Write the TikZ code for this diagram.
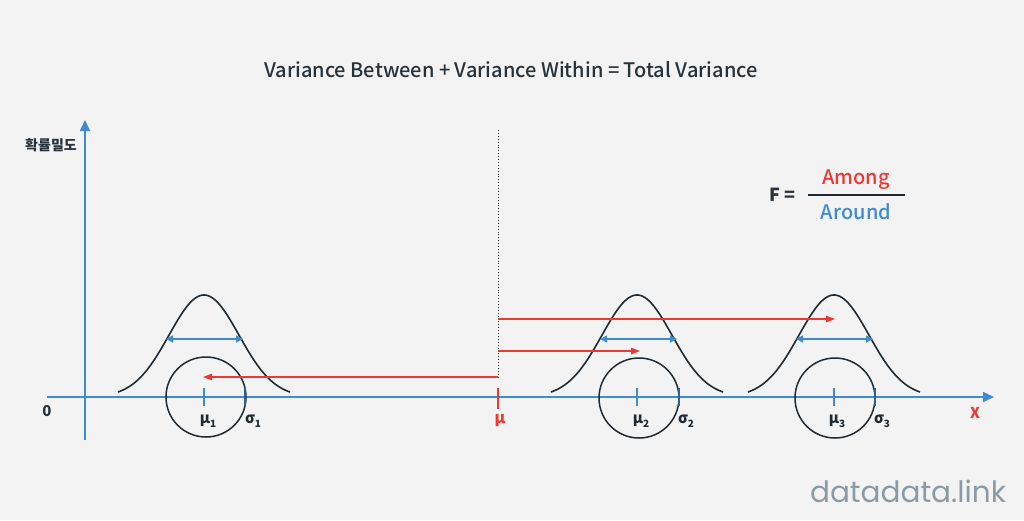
\documentclass[tikz,border=0pt]{standalone}
\usepackage{fontspec}
\setmainfont{Noto Sans CJK KR}
\newfontfamily\medfont{Noto Sans CJK KR Medium}
\newfontfamily\wmfont{Poppins}
\usetikzlibrary{arrows.meta}
\definecolor{bgc}{HTML}{F3F3F3}
\definecolor{axb}{HTML}{3F8BD0}
\definecolor{redc}{HTML}{EA3A33}
\definecolor{ink}{HTML}{1F2A33}
\definecolor{titlec}{HTML}{27323D}
\definecolor{wmc}{HTML}{8A9BA6}
\tikzset{
  axis/.style={draw=axb, line width=1.6pt, -{Triangle[length=11pt,width=10pt,fill=axb]}},
  bell/.style={draw=ink, line width=1.6pt},
  ring/.style={draw=ink, line width=1.5pt},
  spread/.style={draw=axb, line width=1.6pt, {Triangle[length=7pt,width=7pt,fill=axb]}-{Triangle[length=7pt,width=7pt,fill=axb]}},
  meanshift/.style={draw=redc, line width=1.1pt, -{Triangle[length=9pt,width=6.5pt,fill=redc]}},
  tickb/.style={draw=axb, line width=1.4pt},
  ticks/.style={draw=axb!70!black, line width=2pt},
  lab/.style={font=\bfseries\fontsize{15}{18}\selectfont, text=ink, inner sep=0pt},
}
\newcommand{\sbs}[1]{\raisebox{-0.45ex}{\fontsize{10}{11}\selectfont #1}}
\begin{document}
\begin{tikzpicture}[x=1pt,y=-1pt]
\fill[bgc] (0,0) rectangle (1024,520);
\useasboundingbox (0,0) rectangle (1024,520);
% title
\node[font=\medfont\fontsize{20}{24}\selectfont, text=titlec, inner sep=0pt] (title) at (511,70) {Variance Between + Variance Within = Total Variance};
% axes
\coordinate (yb) at (85,440);
\coordinate (yt) at (85,120);
\coordinate (xl) at (47,397);
\coordinate (xr) at (994,397);
\draw[axis] (yb) -- (yt);
\draw[axis] (xl) -- (xr);
\node[font=\bfseries\fontsize{14}{16}\selectfont, text=titlec, inner sep=0pt] (ylab) at (51,145) {확률밀도};
\node[font=\bfseries\fontsize{15}{17}\selectfont, text=titlec, inner sep=0pt] (zero) at (47,411) {0};
\node[font=\bfseries\fontsize{15}{18}\selectfont, text=redc, inner sep=0pt] (xlab) at (975,413) {X};
% dotted grand mean
\coordinate (mtop) at (498,130);
\coordinate (mbot) at (498,377);
\draw[draw=ink, line width=0.9pt, dotted] (mtop) -- (mbot);
\coordinate (mt1) at (498,388);
\coordinate (mt2) at (498,409);
\draw[draw=redc, line width=1.3pt] (mt1) -- (mt2);
\node[font=\bfseries\fontsize{16}{19}\selectfont, text=redc, inner sep=0pt] (mu) at (500,421) {μ};
% bells
\foreach \c in {204,637,834}{
  \draw[bell] plot[domain=-86:86, samples=100, smooth] ({\c+\x}, {397-102*exp(-(\x*\x)/(2*35*35))});
}
% circles
\node[ring, circle, minimum size=80pt, inner sep=0pt] (c1) at (206,397) {};
\node[ring, circle, minimum size=80pt, inner sep=0pt] (c2) at (639,398) {};
\node[ring, circle, minimum size=80pt, inner sep=0pt] (c3) at (835,398) {};
% spread arrows
\coordinate (s1a) at (166,339); \coordinate (s1b) at (243,339);
\coordinate (s2a) at (600,339); \coordinate (s2b) at (677,339);
\coordinate (s3a) at (796,339); \coordinate (s3b) at (873,339);
\draw[spread] (s1a) -- (s1b);
\draw[spread] (s2a) -- (s2b);
\draw[spread] (s3a) -- (s3b);
% mean ticks and sigma ticks
\foreach \m/\s in {204/245,637/679,834/875}{
  \draw[tickb] (\m,388) -- (\m,406);
  \draw[ticks] (\s,388) -- (\s,406);
}
% labels
\node[lab] (m1) at (208,421) {μ\sbs{1}};
\node[lab] (g1) at (253,421) {σ\sbs{1}};
\node[lab] (m2) at (641,421) {μ\sbs{2}};
\node[lab] (g2) at (686,421) {σ\sbs{2}};
\node[lab] (m3) at (837,421) {μ\sbs{3}};
\node[lab] (g3) at (882,421) {σ\sbs{3}};
% red shift arrows
\coordinate (r1s) at (498,377); \coordinate (r1e) at (203,377);
\coordinate (r2s) at (498,319); \coordinate (r2e) at (835,319);
\coordinate (r3s) at (498,351); \coordinate (r3e) at (640,351);
\draw[meanshift] (r1s) -- (r1e);
\draw[meanshift] (r2s) -- (r2e);
\draw[meanshift] (r3s) -- (r3e);
% F ratio
\node[font=\bfseries\fontsize{18}{21}\selectfont, text=titlec, inner sep=0pt] (F) at (782,195) {F =};
\coordinate (fa) at (808,195); \coordinate (fb) at (905,195);
\draw[draw=ink, line width=1.2pt] (fa) -- (fb);
\node[font=\medfont\fontsize{20}{22}\selectfont, text=redc, inner sep=0pt] (among) at (856,180) {Among};
\node[font=\medfont\fontsize{20}{22}\selectfont, text=axb, inner sep=0pt] (around) at (856,212) {Around};
% watermark
\node[font=\wmfont\fontsize{29.5}{33}\selectfont, text=wmc, inner sep=0pt] (wm) at (908,491) {datadata.link};
\end{tikzpicture}
\end{document}
